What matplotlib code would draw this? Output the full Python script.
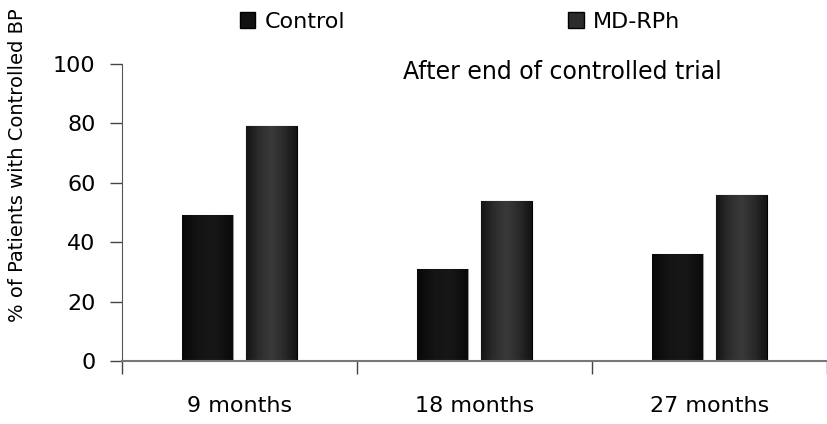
import matplotlib.pyplot as plt
import numpy as np
from matplotlib.colors import LinearSegmentedColormap
from matplotlib.patches import Patch

# percentage of patients with controlled BP, per follow-up point
periods = ['9 months', '18 months', '27 months']
control = [49, 31, 36]
md_rph = [79, 54, 56]
y_ticks = [0, 20, 40, 60, 80, 100]

plt.rcParams['font.family'] = ['DejaVu Sans']
plt.rcParams['font.size'] = 16

fig = plt.figure(figsize=(8.27, 4.24), dpi=100)
ax = fig.add_axes([0.1475, 0.1486, 0.8525, 0.7004])

x = np.arange(len(periods))
w = 0.216
off = 0.136

# cylinder-like shading across each bar
cmap_ctrl = LinearSegmentedColormap.from_list('ctrl', ['#080808', '#141414', '#171717', '#0a0a0a'])
cmap_md = LinearSegmentedColormap.from_list('md', ['#151515', '#2c2c2c', '#3a3a3a', '#2a2a2a', '#131313'])
grad = np.linspace(0, 1, 64).reshape(1, -1)

def shaded_bars(xs, vals, cmap, edge):
    bars = ax.bar(xs, vals, w, color=cmap(0.5), edgecolor=edge, linewidth=0.8, zorder=2)
    for b in bars:
        im = ax.imshow(grad, cmap=cmap, aspect='auto', zorder=2.5,
                       extent=[b.get_x(), b.get_x() + b.get_width(), 0, b.get_height()])
        im.set_clip_path(b)
    return bars

b1 = shaded_bars(x - off, control, cmap_ctrl, '#9a9a9a')
b2 = shaded_bars(x + off, md_rph, cmap_md, '#000000')

ax.set_xlim(-0.5, len(periods) - 0.5)
ax.set_ylim(0, 100)
ax.set_yticks(y_ticks)
ax.set_xticks(x)
ax.set_xticklabels(periods)
ax.set_xticks(np.arange(-0.5, len(periods), 1.0), minor=True)
ax.tick_params(axis='x', which='major', length=0, pad=25)
ax.tick_params(axis='x', which='minor', length=9, width=1, color='#444444', direction='out')
ax.tick_params(axis='y', length=9, width=1, color='#444444', pad=10)

for s in ['top', 'right']:
    ax.spines[s].set_visible(False)
ax.spines['left'].set_color('#555555')
ax.spines['bottom'].set_color('#777777')
ax.spines['bottom'].set_linewidth(1.5)

ax.text(0.398, 0.973, 'After end of controlled trial', transform=ax.transAxes,
        ha='left', va='center', fontsize=17)

fig.text(0.021, 0.61, '% of Patients with Controlled BP', rotation=90,
         ha='center', va='center', fontsize=14)

handles = [Patch(facecolor='#111111', edgecolor='#000000'),
           Patch(facecolor='#2c2c2c', edgecolor='#000000')]
fig.legend(handles, ['Control', 'MD-RPh'], loc='center left', bbox_to_anchor=(0.29, 0.948),
           ncol=2, frameon=False, handlelength=0.7, handleheight=0.7, handletextpad=0.4,
           columnspacing=10.05, borderaxespad=0, borderpad=0)

fig.savefig('out.png', dpi=100)
